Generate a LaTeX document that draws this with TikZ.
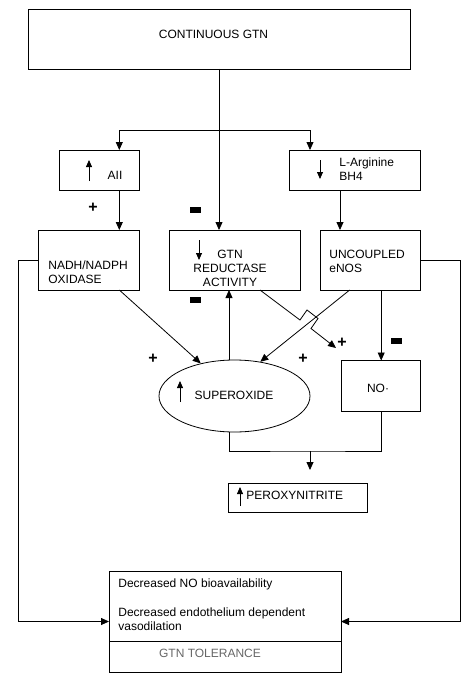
\documentclass[tikz,border=0pt]{standalone}
\usepackage{fontspec}
\setmainfont{Liberation Sans}
\usetikzlibrary{arrows.meta,shapes.geometric}

\begin{document}
\begin{tikzpicture}[x=1pt, y=-1pt, line width=0.8pt,
    font=\fontsize{12}{14}\selectfont,
    box/.style={rectangle, draw, inner sep=0pt, outer sep=0pt},
    arr/.style={-{Triangle[length=8pt,width=7pt]}},
    trend/.style={-{Triangle[length=7pt,width=6pt]}},
    plus/.style={font=\fontsize{16}{16}\selectfont\bfseries, inner sep=0pt},
    minus/.style={rectangle, fill=black, minimum width=11pt, minimum height=6pt, inner sep=0pt}]
  \useasboundingbox (0,0) rectangle (473,677);
  % Boxes
  \node (top) [box, minimum width=382pt, minimum height=60pt] at (219,39) {};
  \node (aii) [box, minimum width=80pt, minimum height=40pt] at (99.3,170) {};
  \node (larg) [box, minimum width=131pt, minimum height=40pt] at (355,170) {};
  \node (nadh) [box, minimum width=101pt, minimum height=60pt] at (88.8,260) {};
  \node (red) [box, minimum width=131pt, minimum height=60pt] at (234.5,260) {};
  \node (unc) [box, minimum width=100pt, minimum height=60pt] at (370.7,260) {};
  \node (sup) [ellipse, draw, inner sep=0pt, minimum width=151pt, minimum height=72pt] at (234.5,396) {};
  \node (no) [box, minimum width=79pt, minimum height=51pt] at (381.2,386) {};
  \node (perox) [box, minimum width=139pt, minimum height=29pt] at (297.5,497.5) {};
  \node (tol) [box, minimum width=232pt, minimum height=101pt] at (225,621.5) {};
  \draw ([yshift=31pt]tol.south west) -- ([yshift=31pt]tol.south east);
  % Texts
  \node (toptext) at (213.5,34.7) {CONTINUOUS GTN};
  \node (aiitext) at (115,175) {AII};
  \node (largtext) [anchor=north west, align=left, inner sep=0pt] at (339,157) {L-Arginine\\BH4};
  \node (nadhtext) [anchor=north west, align=left, inner sep=0pt] at (48,260) {NADH/NADPH\\OXIDASE};
  \node (redtext) [anchor=north, align=center, inner sep=0pt] at (230,249.3) {GTN\\REDUCTASE\\ACTIVITY};
  \node (unctext) [anchor=north west, align=left, inner sep=0pt] at (329,250) {UNCOUPLED\\eNOS};
  \node (suptext) at (234,395) {SUPEROXIDE};
  \node (notext) at (378,388) {NO·};
  \node (peroxtext) [anchor=west, inner sep=0pt] at (246,495) {PEROXYNITRITE};
  \node (toltext1) [anchor=north west, inner sep=0pt] at (118,578) {Decreased NO bioavailability};
  \node (toltext2) [anchor=north west, align=left, inner sep=0pt] at (118,607.7) {Decreased endothelium dependent\\vasodilation};
  \node (toltext3) [text=black!60] at (210,653.7) {GTN TOLERANCE};
  % Up and down marks
  \draw[trend] (89,181) -- (89,160);
  \draw[trend] (320,160) -- (320,179);
  \draw[trend] (199,240) -- (199,260);
  \draw[trend] (180,402) -- (180,381);
  \draw[trend] (240,506) -- (240,487);
  % Signs
  \node (p1) [plus] at (93,208) {+};
  \node (p2) [plus] at (153,359) {+};
  \node (p3) [plus] at (303,359) {+};
  \node (p4) [plus] at (342,343) {+};
  \node (m1) [minus] at (195,210) {};
  \node (m2) [minus] at (195,300) {};
  \node (m3) [minus] at (396,341) {};
  % Arrows
  \coordinate (fork) at (219,130);
  \coordinate (gtnend) at (336,348);
  \coordinate (merge) at (310,451);
  \coordinate (peroxin) at (310,470);
  \draw[arr] (top.south) -- (top.south |- red.north);
  \draw[arr] (fork) -| ([xshift=20pt]aii.north);
  \draw[arr] (fork) -| ([xshift=-45pt]larg.north);
  \draw[arr] ([xshift=20pt]aii.south) -- ([xshift=20pt]aii.south |- nadh.north);
  \draw[arr] ([xshift=-15pt]larg.south) -- ([xshift=-15pt]larg.south |- unc.north);
  \draw[arr] ([xshift=30.5pt]nadh.south) -- (sup.136);
  \draw[arr] ([xshift=-5.5pt]sup.north) -- ([xshift=-5.5pt]sup.north |- red.south);
  \draw[arr] ([xshift=25.5pt]red.south) -- ++(40,30) -- ++(7,-10) -- ++(11,8.5) -- ++(-7,10) -- (gtnend);
  \draw[arr] ([xshift=-21pt]unc.south) -- (sup.53);
  \draw[arr] (no.north |- unc.south) -- (no.north);
  \draw ([xshift=-5.5pt]sup.south) |- (merge) -| (no.south);
  \draw[arr] (merge) -- (peroxin);
  % Loops
  \draw[arr] (nadh.west) -- ++(-20,0) |- (tol.west);
  \draw[arr] (unc.east) -- ++(40,0) |- (tol.east);
\end{tikzpicture}
\end{document}
